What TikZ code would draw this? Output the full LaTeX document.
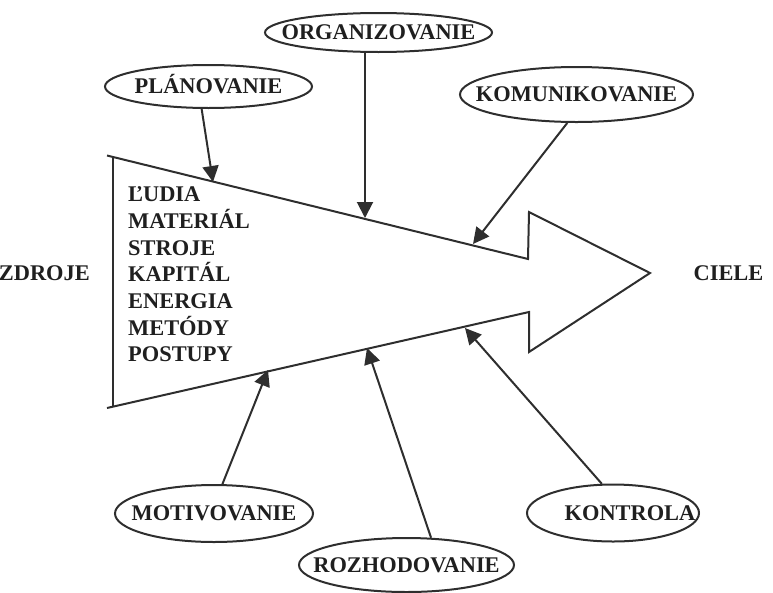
\documentclass[tikz,border=0pt]{standalone}
\usepackage{fontspec}
\setmainfont{Liberation Serif}
\usetikzlibrary{shapes.geometric,arrows.meta}
\newcommand{\elltxt}[2][0pt]{\makebox[0pt]{\hspace*{#1}\raisebox{-0.331em}[0pt][0pt]{#2}}}
\begin{document}
\begin{tikzpicture}[x=1pt,y=-1pt,
  lbl/.style={font=\fontsize{22.4}{26.7}\selectfont\bfseries, text=black!88, inner sep=0pt},
  oval/.style={ellipse, draw=black!82, line width=2pt, inner sep=0pt, lbl},
  conn/.style={draw=black!82, line width=2pt, -{Triangle[length=16pt,width=16pt]}},
  shapeline/.style={draw=black!82, line width=2pt, line join=miter}
]
\useasboundingbox (0,0) rectangle (773,592);

% ellipses
\node[oval, minimum width=207pt, minimum height=43pt] (plan) at (208.5,86.5) {\elltxt{PLÁNOVANIE}};
\node[oval, minimum width=227pt, minimum height=39pt] (org) at (378.5,32.5) {\elltxt{ORGANIZOVANIE}};
\node[oval, minimum width=233pt, minimum height=55pt] (kom) at (576.5,94.5) {\elltxt{KOMUNIKOVANIE}};
\node[oval, minimum width=198pt, minimum height=57pt] (mot) at (214,513.5) {\elltxt{MOTIVOVANIE}};
\node[oval, minimum width=215pt, minimum height=54pt] (roz) at (406.5,565) {\elltxt{ROZHODOVANIE}};
\node[oval, minimum width=172pt, minimum height=57pt] (kon) at (613,513) {\elltxt[34pt]{KONTROLA}};

% big arrow
\draw[shapeline] (107,155.5) -- (528,259) -- (529,212) -- (650,273) -- (529,352) -- (529,312) -- (107,408);
\draw[shapeline] (113,157) -- (113,406.6);

% tips on the arrow
\coordinate (tp) at (213,182);
\coordinate (to) at (365,218);
\coordinate (tk) at (473,244);
\coordinate (tm) at (268,370);
\coordinate (tr) at (367,348);
\coordinate (tc) at (465,328);

\draw[conn] (plan.253) -- (tp);
\draw[conn] (org.south -| to) -- (to);
\draw[conn] (kom.252) -- (tk);
\draw[conn] (mot.74) -- (tm);
\draw[conn] (roz.48) -- (tr);
\draw[conn] (kon.111) -- (tc);

% resources list
\foreach \t [count=\i] in {ĽUDIA,MATERIÁL,STROJE,KAPITÁL,ENERGIA,METÓDY,POSTUPY}
  \node[lbl, anchor=base west] (res\i) at (128,{201.7+(\i-1)*26.7}) {\t};

\node[lbl, anchor=base east] (zdr) at (90,280) {ZDROJE};
\node[lbl, anchor=base] (ciel) at (728.5,280) {CIELE};
\end{tikzpicture}
\end{document}
